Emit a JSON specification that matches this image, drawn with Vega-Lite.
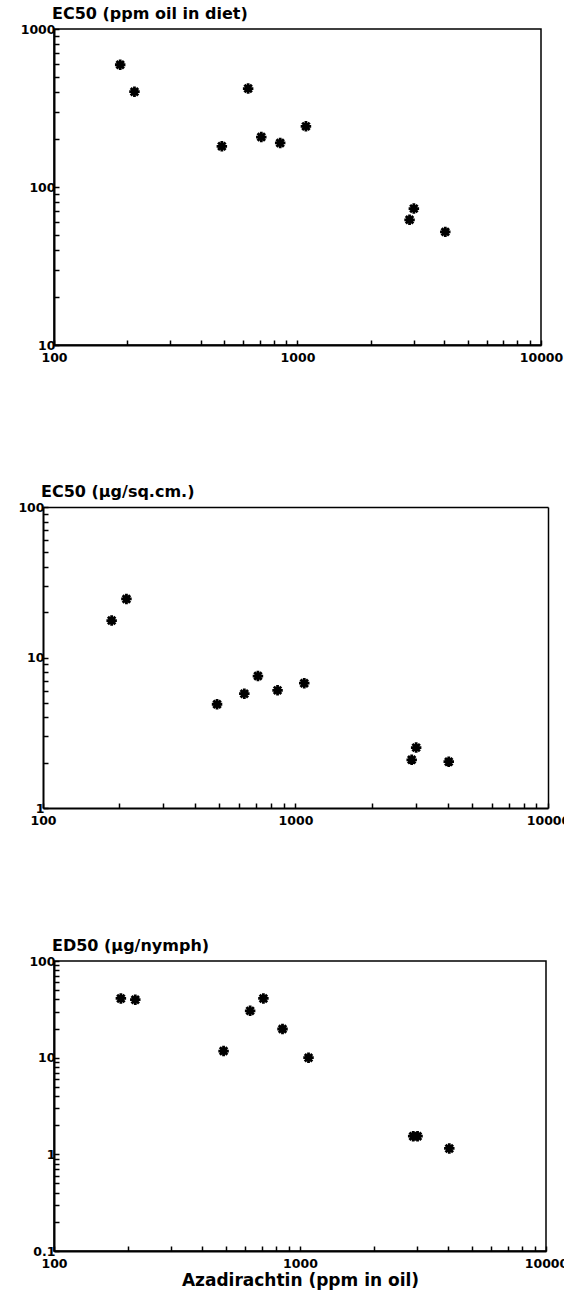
{
  "$schema": "https://vega.github.io/schema/vega-lite/v6.json",
  "padding": {"left": 17, "top": 5, "right": 0, "bottom": 0},
  "background": "white",
  "datasets": {
    "pts": [
      {"panel": "diet", "aza": 187, "value": 594},
      {"panel": "diet", "aza": 214, "value": 401},
      {"panel": "diet", "aza": 489, "value": 181},
      {"panel": "diet", "aza": 627, "value": 420},
      {"panel": "diet", "aza": 710, "value": 207},
      {"panel": "diet", "aza": 849, "value": 190},
      {"panel": "diet", "aza": 1083, "value": 242},
      {"panel": "diet", "aza": 2885, "value": 62},
      {"panel": "diet", "aza": 3005, "value": 73},
      {"panel": "diet", "aza": 4045, "value": 52},
      {"panel": "sqcm", "aza": 187, "value": 17.6},
      {"panel": "sqcm", "aza": 214, "value": 24.5},
      {"panel": "sqcm", "aza": 489, "value": 4.89},
      {"panel": "sqcm", "aza": 627, "value": 5.75},
      {"panel": "sqcm", "aza": 710, "value": 7.53},
      {"panel": "sqcm", "aza": 849, "value": 6.05},
      {"panel": "sqcm", "aza": 1083, "value": 6.75},
      {"panel": "sqcm", "aza": 2885, "value": 2.09},
      {"panel": "sqcm", "aza": 3005, "value": 2.52},
      {"panel": "sqcm", "aza": 4045, "value": 2.03},
      {"panel": "nymph", "aza": 187, "value": 41},
      {"panel": "nymph", "aza": 214, "value": 39.8},
      {"panel": "nymph", "aza": 489, "value": 11.7},
      {"panel": "nymph", "aza": 627, "value": 30.5},
      {"panel": "nymph", "aza": 710, "value": 41},
      {"panel": "nymph", "aza": 849, "value": 19.8},
      {"panel": "nymph", "aza": 1083, "value": 10},
      {"panel": "nymph", "aza": 2885, "value": 1.54},
      {"panel": "nymph", "aza": 3005, "value": 1.54},
      {"panel": "nymph", "aza": 4045, "value": 1.15}
    ]
  },
  "config": {
    "view": {"stroke": "black", "strokeWidth": 1.5},
    "axis": {
      "grid": false,
      "domainColor": "black",
      "domainWidth": 2,
      "tickColor": "black",
      "tickWidth": 1.5,
      "tickSize": -5,
      "labelFont": "DejaVu Sans",
      "labelFontWeight": "bold",
      "labelFontSize": 12.5,
      "labelColor": "black",
      "labelOverlap": false,
      "labelFlush": false,
      "labelExpr": "indexof([0.1, 1, 10, 100, 1000, 10000], datum.value) >= 0 ? format(datum.value, '~r') : ''",
      "titleFont": "DejaVu Sans",
      "titleFontWeight": "bold",
      "titleFontSize": 17,
      "titleColor": "black"
    },
    "axisX": {"labelPadding": 11, "labelBaseline": "top"},
    "axisY": {"labelPadding": 4},
    "title": {"anchor": "start", "frame": "group", "offset": 1, "font": "DejaVu Sans", "fontWeight": "bold", "fontSize": 16, "color": "black", "dx": -2}
  },
  "vconcat": [
    {
      "spacing": 119,
      "vconcat": [
        {
          "title": "EC50 (ppm oil in diet)",
          "width": 487,
          "height": 316,
          "data": {"name": "pts"},
          "transform": [{"filter": "datum.panel == 'diet'"}],
          "mark": {"type": "point", "shape": "M-1,0L1,0M0,-1L0,1M-0.71,-0.71L0.71,0.71M-0.71,0.71L0.71,-0.71", "filled": false, "stroke": "black", "strokeWidth": 2.8, "size": 110, "opacity": 1},
          "encoding": {
            "x": {"field": "aza", "type": "quantitative", "scale": {"type": "log", "domain": [100, 10000], "nice": false},
                  "axis": {"title": null, "values": [100, 200, 300, 400, 500, 600, 700, 800, 900, 1000, 2000, 3000, 4000, 5000, 6000, 7000, 8000, 9000, 10000]}},
            "y": {"field": "value", "type": "quantitative", "scale": {"type": "log", "domain": [10, 1000], "nice": false},
                  "axis": {"title": null, "values": [10, 20, 30, 40, 50, 60, 70, 80, 90, 100, 200, 300, 400, 500, 600, 700, 800, 900, 1000]}}
          }
        },
        {
          "title": {"text": "EC50 (µg/sq.cm.)", "dx": -13},
          "width": 494,
          "height": 301,
          "view": {"stroke": null},
          "data": {"name": "pts"},
          "transform": [{"filter": "datum.panel == 'sqcm'"}],
          "layer": [
            {
              "mark": {"type": "point", "shape": "M-1,0L1,0M0,-1L0,1M-0.71,-0.71L0.71,0.71M-0.71,0.71L0.71,-0.71", "filled": false, "stroke": "black", "strokeWidth": 2.8, "size": 110, "opacity": 1},
              "encoding": {
                "x": {"field": "aza", "type": "quantitative", "scale": {"type": "log", "domain": [100, 10000], "nice": false, "range": [-11, 494]},
                      "axis": {"title": null, "values": [100, 200, 300, 400, 500, 600, 700, 800, 900, 1000, 2000, 3000, 4000, 5000, 6000, 7000, 8000, 9000, 10000]}},
                "y": {"field": "value", "type": "quantitative", "scale": {"type": "log", "domain": [1, 100], "nice": false},
                      "axis": {"title": null, "offset": 11, "values": [1, 2, 3, 4, 5, 6, 7, 8, 9, 10, 20, 30, 40, 50, 60, 70, 80, 90, 100]}}
              }
            },
            {
              "mark": {"type": "point", "opacity": 0},
              "encoding": {
                "x": {"field": "aza", "type": "quantitative",
                      "axis": {"title": null, "orient": "top", "ticks": false, "labels": false, "domainWidth": 1.5}},
                "y": {"field": "value", "type": "quantitative",
                      "axis": {"title": null, "orient": "right", "ticks": false, "labels": false, "domainWidth": 1.5}}
              }
            }
          ],
          "resolve": {"axis": {"x": "independent", "y": "independent"}}
        }
      ]
    },
    {
      "title": "ED50 (µg/nymph)",
      "width": 492,
      "height": 290,
      "data": {"name": "pts"},
      "transform": [{"filter": "datum.panel == 'nymph'"}],
      "mark": {"type": "point", "shape": "M-1,0L1,0M0,-1L0,1M-0.71,-0.71L0.71,0.71M-0.71,0.71L0.71,-0.71", "filled": false, "stroke": "black", "strokeWidth": 2.8, "size": 110, "opacity": 1},
      "encoding": {
        "x": {"field": "aza", "type": "quantitative", "scale": {"type": "log", "domain": [100, 10000], "nice": false},
              "axis": {"title": "Azadirachtin (ppm in oil)", "titlePadding": 3, "values": [100, 200, 300, 400, 500, 600, 700, 800, 900, 1000, 2000, 3000, 4000, 5000, 6000, 7000, 8000, 9000, 10000]}},
        "y": {"field": "value", "type": "quantitative", "scale": {"type": "log", "domain": [0.1, 100], "nice": false},
              "axis": {"title": null, "values": [0.1, 0.2, 0.3, 0.4, 0.5, 0.6, 0.7, 0.8, 0.9, 1, 2, 3, 4, 5, 6, 7, 8, 9, 10, 20, 30, 40, 50, 60, 70, 80, 90, 100]}}
      }
    }
  ],
  "spacing": 110
}
